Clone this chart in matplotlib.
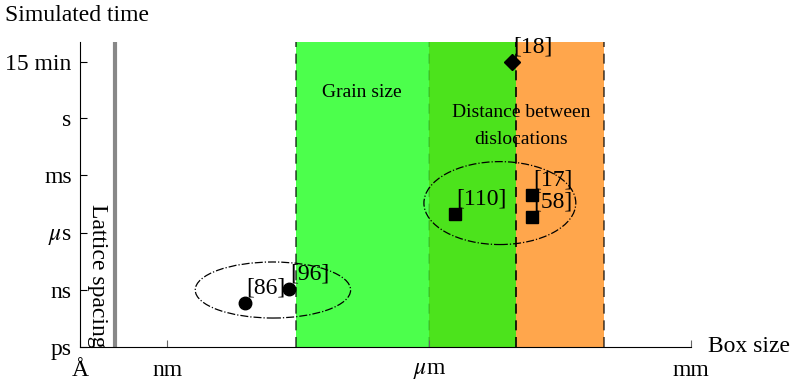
import numpy as np
import matplotlib.pyplot as plt
from matplotlib.patches import Ellipse

plt.rcParams['font.family'] = ['Liberation Serif', 'DejaVu Serif']
plt.rcParams['mathtext.fontset'] = 'stix'

# axes are log10 of metres (x) and seconds (y)
x_ticks = [-10, -9, -6, -3]
x_labels = ['Å', 'nm', r'$\mu$m', 'mm']
y_ticks = [-12, -9, -6, -3, 0, np.log10(900)]
y_labels = ['ps', 'ns', r'$\mu$s', 'ms', 's', '15 min']

lattice = np.log10(2.5e-10)
band_edges = [np.log10(3e-8), -6, -5, -4]
band_colors = ['#4cff4c', '#4ce31c', '#ffa64c']
edge_alpha = [0.7, 0.15, 1.0, 0.7]

refs = ['[86]', '[96]', '[110]', '[17]', '[58]', '[18]']
ref_x = [-8.11, -7.61, -5.70, -4.82, -4.82, -5.05]
ref_y = [-9.69, -8.96, -5.03, -4.03, -5.18, np.log10(900)]
ref_marker = ['o', 'o', 's', 's', 's', 'D']

# groups circled with dash-dot ellipses: centre x, centre y, width, height
groups = [(-7.79, -9.01, 1.78, 2.94), (-5.19, -4.45, 1.74, 4.35)]

FS = 17

fig = plt.figure(figsize=(7.93, 3.8), dpi=100)
ax = fig.add_axes([0.1009, 0.0868, 0.7705, 0.8027])
ax.set_xlim(-10, -3)
ax.set_ylim(-12, 4)

for i, c in enumerate(band_colors):
    ax.axvspan(band_edges[i], band_edges[i + 1], color=c, lw=0, zorder=0)
for xe, a in zip(band_edges, edge_alpha):
    ax.axvline(xe, color='black', ls=(0, (6, 4)), lw=1.2, alpha=a, zorder=1)

ax.axvline(lattice, color='#888888', lw=3, zorder=1)
ax.text(lattice - 0.2, -12.05, 'Lattice spacing', rotation=-90, ha='center', va='bottom',
        fontsize=FS)

ax.text(-6.77, 1.37, 'Grain size', ha='center', va='center', fontsize=14)
ax.text(-4.95, -0.4, 'Distance between\ndislocations', ha='center', va='center',
        fontsize=14, linespacing=1.8)

for cx, cy, w, h in groups:
    ax.add_patch(Ellipse((cx, cy), w, h, fill=False, ls='-.', lw=0.9, color='black', zorder=3))

for name, x, y, m in zip(refs, ref_x, ref_y, ref_marker):
    ms = 9 if m == 'o' else 8
    ax.plot(x, y, marker=m, color='black', ms=ms, ls='none', zorder=4)
    ax.annotate(name, (x, y), xytext=(1, 3), textcoords='offset points',
                ha='left', va='bottom', fontsize=FS, zorder=5,
                arrowprops=dict(arrowstyle='-', lw=1, color='black', shrinkA=0, shrinkB=0,
                                relpos=(0, 0.9)))

ax.spines['top'].set_visible(False)
ax.spines['right'].set_visible(False)
ax.set_xticks(x_ticks)
ax.set_xticklabels(x_labels, fontsize=FS)
ax.set_yticks(y_ticks)
ax.set_yticklabels(y_labels, fontsize=FS)
ax.tick_params(direction='in', length=5)
ax.tick_params(axis='x', colors='#666666', labelcolor='black', pad=9)
ax.tick_params(axis='y', pad=6)

fig.text(0.006, 0.96, 'Simulated time', fontsize=FS, ha='left', va='center')
fig.text(0.893, 0.087, 'Box size', fontsize=FS, ha='left', va='center')

fig.savefig('out.png', dpi=100)
